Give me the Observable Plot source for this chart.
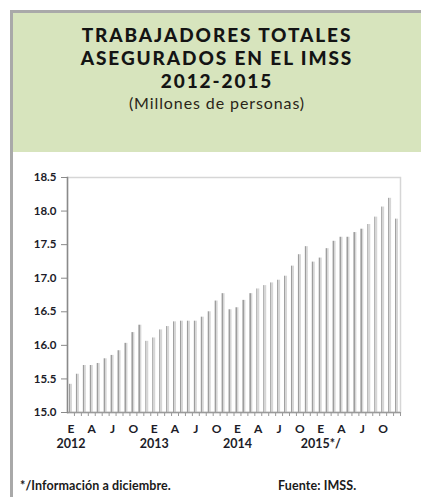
<!DOCTYPE html>
<html>
<head>
<meta charset="utf-8">
<script src="https://cdn.jsdelivr.net/npm/d3@7"></script>
<script src="https://cdn.jsdelivr.net/npm/@observablehq/plot@0.6"></script>
<style>
  html, body { margin: 0; padding: 0; background: #fff; width: 421px; height: 497px; overflow: hidden; }
  body { position: relative; font-family: Lato, "Open Sans", sans-serif; color: #111; }
  #outer { position: absolute; left: 10px; top: 10px; width: 411px; height: 487px;
           border-left: 3px solid #a9a9a9; border-top: 3px solid #a9a9a9; box-sizing: border-box; }
  #titlebox { position: absolute; left: 13px; top: 13px; width: 408px; height: 139px; background: #d7e4bd; }
  #title { position: absolute; left: 13px; top: 23px; width: 408px; text-align: center;
           font-family: Lato, "Open Sans", sans-serif;
           font-weight: 900; font-size: 19px; line-height: 23px; color: #141414; letter-spacing: 1.9px; }
  #subtitle { position: absolute; left: 13px; top: 92px; width: 408px; text-align: center;
              font-family: Lato, "Open Sans", sans-serif;
              font-size: 16px; line-height: 22px; color: #2a2418; letter-spacing: 0.9px; }
  #chart { position: absolute; left: 0; top: 152px; }
  .foot { position: absolute; top: 478px; font-size: 12.5px; font-weight: bold; color: #1a1a1a; letter-spacing: 0.1px; }
</style>
</head>
<body>
<svg width="0" height="0" style="position:absolute">
  <defs>
    <linearGradient id="barGrad" x1="0" x2="1" y1="0" y2="0">
      <stop offset="0" stop-color="#9e9e9e"/>
      <stop offset="0.4" stop-color="#9e9e9e"/>
      <stop offset="0.4" stop-color="#d6d6d6"/>
      <stop offset="1" stop-color="#d6d6d6"/>
    </linearGradient>
  </defs>
</svg>
<div id="outer"></div>
<div id="titlebox"></div>
<div id="title">TRABAJADORES TOTALES<br>ASEGURADOS EN EL IMSS<br>2012-2015</div>
<div id="subtitle">(Millones de personas)</div>
<div id="chart"></div>
<div class="foot" style="left:20px">*/Información a diciembre.</div>
<div class="foot" style="left:278px">Fuente: IMSS.</div>
<script>
// Monthly values, Jan 2012 - Dec 2015 (millions of people)
const values2012 = [15.42, 15.57, 15.70, 15.70, 15.73, 15.80, 15.85, 15.92, 16.03, 16.19, 16.30, 16.06];
const values2013 = [16.11, 16.23, 16.28, 16.35, 16.36, 16.36, 16.36, 16.42, 16.50, 16.66, 16.77, 16.53];
const values2014 = [16.56, 16.67, 16.77, 16.84, 16.89, 16.93, 16.97, 17.03, 17.18, 17.35, 17.47, 17.24];
const values2015 = [17.30, 17.44, 17.55, 17.61, 17.61, 17.68, 17.73, 17.80, 17.91, 18.06, 18.19, 17.88];
const monthTickLabels = ["E", "A", "J", "O"];
const yearLabels = ["2012", "2013", "2014", "2015*/"];
const yTicks = [15.0, 15.5, 16.0, 16.5, 17.0, 17.5, 18.0, 18.5];

const values = [...values2012, ...values2013, ...values2014, ...values2015];
const data = values.map((v, i) => ({i, v}));
const idx = d3.range(values.length);

const W = 421, ML = 67, MR = 21;
const step = (W - ML - MR) / values.length;

const chart = Plot.plot({
  width: W, height: 305,
  marginLeft: ML, marginRight: MR, marginTop: 25, marginBottom: 45,
  style: {fontFamily: "Lato, 'Open Sans', sans-serif", background: "transparent", overflow: "visible"},
  x: {type: "band", domain: idx, paddingInner: 0.57, paddingOuter: 0.285, align: 0.5, label: null},
  y: {domain: [15, 18.5], label: null},
  marks: [
    Plot.frame({stroke: "#d6d6d6", strokeWidth: 1.5}),
    Plot.barY(data, {x: "i", y1: 15, y2: "v", fill: "url(#barGrad)"}),
    Plot.ruleY([15], {stroke: "#9a9a9a", strokeWidth: 1.5}),
    Plot.frame({anchor: "left", stroke: "#8a8a8a", strokeWidth: 1.5}),
    Plot.axisY({ticks: yTicks, tickFormat: d3.format(".1f"), tickSize: 6, tickPadding: 5,
      fontSize: 11.5, fontWeight: "bold", stroke: "#8a8a8a", fill: "#1c1c28", label: null}),
    Plot.axisX({ticks: idx, tickFormat: () => "", tickSize: 4, dx: step / 2, stroke: "#9a9a9a", label: null}),
    Plot.axisX({ticks: idx.filter(i => i % 3 === 0), tickFormat: i => monthTickLabels[(i % 12) / 3],
      tickSize: 0, tickPadding: 12, fontSize: 12, fontWeight: "bold", fill: "#1c1c28", label: null}),
    Plot.axisX({ticks: idx.filter(i => i % 12 === 0), tickFormat: i => yearLabels[i / 12],
      tickSize: 0, tickPadding: 27, fontSize: 12.5, fontWeight: "bold", fill: "#1c1c28", label: null})
  ]
});
document.getElementById("chart").appendChild(chart);
</script>
</body>
</html>
